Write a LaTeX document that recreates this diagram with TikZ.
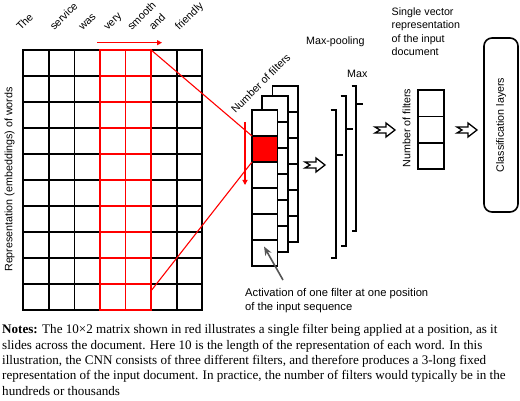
\documentclass[tikz,border=0pt]{standalone}
\usepackage{fontspec}
\setmainfont{Liberation Sans}
\newfontfamily\notesfont{Liberation Serif}
\usetikzlibrary{arrows.meta}
\begin{document}
\begin{tikzpicture}[x=1pt,y=-1pt,
  lbl/.style={font=\fontsize{10.7}{13}\selectfont,inner sep=0pt},
  cell/.style={draw=black,line width=1.8pt,minimum width=25.57pt,minimum height=26pt,inner sep=0pt,outer sep=0pt,anchor=north west},
  redcell/.style={draw=red,line width=1.8pt},
  fcell/.style={draw=black,fill=white,line width=1.7pt,minimum width=25.6pt,minimum height=26pt,inner sep=0pt,outer sep=0pt,anchor=north west},
  vcell/.style={draw=black,line width=1.7pt,minimum width=26pt,minimum height=26.4pt,inner sep=0pt,outer sep=0pt,anchor=north west},
  bracket/.style={draw=black,line width=1.6pt},
  redline/.style={draw=red,line width=1.1pt},
  harrow/.pic={\draw[line width=1.3pt,line join=miter] (0,-3) -- (11,-3) -- (11,-7) -- (20,0) -- (11,7) -- (11,3) -- (0,3) -- (5,0) -- cycle;}
]
\useasboundingbox (0,0) rectangle (520,401);

% word embedding grid
\foreach \r in {1,...,10}{
  \foreach \c in {1,...,7}{
    \node[cell] (g-\r-\c) at ({23.3+(\c-1)*25.57},{50+(\r-1)*26}) {};
  }
}
\foreach \r in {1,...,10}{
  \foreach \c in {4,5}{
    \draw[redcell] (g-\r-\c.north west) rectangle (g-\r-\c.south east);
  }
}

% words
\foreach \w/\x in {The/20.7,service/54.3,was/82.7,very/107.7,smooth/131.7,and/153.3,friendly/179.3}{
  \node[lbl,anchor=base west,rotate=45] (w-\w) at (\x,31) {\w};
}

% sliding arrow
\coordinate (sa) at (97,42.7);
\coordinate (sb) at (162,42.7);
\draw[red,line width=1.1pt,-{Triangle[length=5pt,width=5pt]}] (sa) -- (sb);

% left label
\node[lbl,rotate=90] (replbl) at (9.5,179.5) {Representation (embeddings) of words};

% filter activation columns
\foreach \k in {0,...,5}{
  \node[fcell] (f3-\k) at (272.4,{86+26*\k}) {};
}
\foreach \k in {0,...,5}{
  \node[fcell] (f2-\k) at (262.2,{96+26*\k}) {};
}
\foreach \k in {0,...,5}{
  \node[fcell] (f1-\k) at (252,{110+26*\k}) {};
}
\node[fcell,fill=red] (act) at (252,136) {};

\node[lbl,anchor=base west,rotate=45] (nf1) at (235.5,114) {Number of filters};

% red down arrow
\coordinate (da) at (245,122);
\coordinate (db) at (245,185);
\draw[red,line width=1.1pt,-{Triangle[length=5pt,width=5pt]}] (da) -- (db);

% red connectors
\coordinate (lowstart) at (151.7,290);
\draw[redline] (g-1-5.north east) -- (act.north west);
\draw[redline] (lowstart) -- (act.south west);

% annotation
\node[lbl,anchor=base west,align=left,font=\fontsize{11.2}{13.4}\selectfont] (actlbl) at (245,310) {Activation of one filter at one position\\of the input sequence};
\coordinate (ga) at (283,280);
\coordinate (gb) at (264,246.5);
\draw[draw={rgb,255:red,85;green,85;blue,85},line width=1.6pt,-{Stealth[length=9pt,width=7pt]}] (ga) -- (gb);

% hollow arrows
\pic at (305,165) {harrow};
\pic at (375,130) {harrow};
\pic at (457,130) {harrow};

% max-pooling brackets
\draw[bracket] (330.5,110) -- (336,110) -- (336,258) -- (330.5,258);
\draw[bracket] (336,155) -- (343,155);
\draw[bracket] (340.5,96) -- (345.7,96) -- (345.7,246) -- (340.5,246);
\draw[bracket] (345.7,129.3) -- (352.7,129.3);
\draw[bracket] (351.5,86) -- (356,86) -- (356,231) -- (351.5,231);
\draw[bracket] (356,104.3) -- (363,104.3);

\node[lbl,anchor=base west] (mp) at (306,44.5) {Max-pooling};
\node[lbl,anchor=base west] (mx) at (347,78) {Max};

% single vector
\node[lbl,anchor=base west,align=left,font=\fontsize{10.7}{13.3}\selectfont] (svlbl) at (391.5,55.4) {Single vector\\representation\\of the input\\document};
\foreach \k in {0,1,2}{
  \node[vcell] (v-\k) at (418.3,{90+26.4*\k}) {};
}
\node[lbl,rotate=90] (nf2) at (406.5,128) {Number of filters};

% classification layers
\node[lbl,draw,line width=1.6pt,rounded corners=8pt,rotate=90,minimum width=174pt,minimum height=34pt] (cls) at (501,125) {Classification layers};

% notes
\node[anchor=base west,align=left,inner sep=0pt,font=\notesfont\fontsize{13.1}{15.3}\selectfont] (notes) at (2,395) {\textbf{Notes:} The 10×2 matrix shown in red illustrates a single filter being applied at a position, as it\\slides across the document. Here 10 is the length of the representation of each word. In this\\illustration, the CNN consists of three different filters, and therefore produces a 3-long fixed\\representation of the input document. In practice, the number of filters would typically be in the\\hundreds or thousands};
\end{tikzpicture}
\end{document}
